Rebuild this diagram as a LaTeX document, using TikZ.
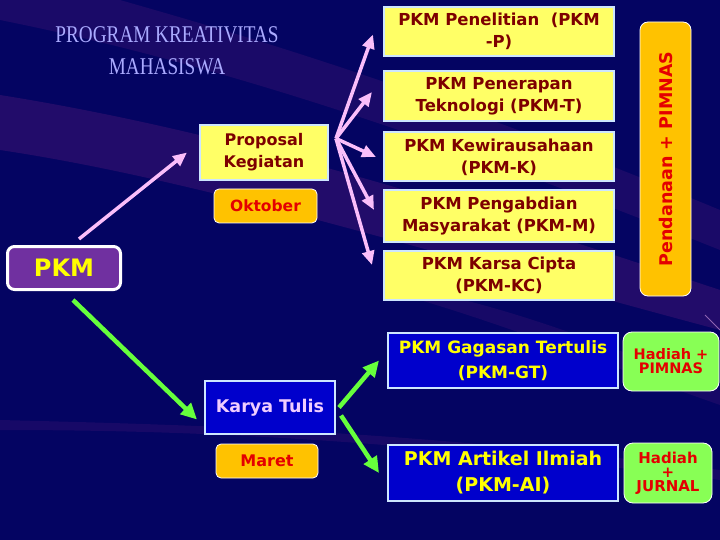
\documentclass[tikz,border=0pt]{standalone}
\usepackage{fontspec}
\usepackage{graphicx}
\setmainfont{DejaVu Sans}
\newfontfamily\titlefont{Liberation Serif}
\usetikzlibrary{arrows.meta,calc}
\definecolor{bgnavy}{RGB}{4,4,98}
\definecolor{streak}{RGB}{42,14,108}
\definecolor{ybox}{RGB}{255,255,102}
\definecolor{lborder}{RGB}{205,230,255}
\definecolor{dred}{RGB}{125,0,0}
\definecolor{gold}{RGB}{255,194,0}
\definecolor{rtext}{RGB}{228,0,0}
\definecolor{pkmpurple}{RGB}{112,48,160}
\definecolor{pkmyellow}{RGB}{255,255,0}
\definecolor{bbox}{RGB}{0,0,204}
\definecolor{kttext}{RGB}{240,205,255}
\definecolor{lgreen}{RGB}{136,255,85}
\definecolor{agreen}{RGB}{102,255,60}
\definecolor{apink}{RGB}{250,190,250}
\definecolor{ttext}{RGB}{170,170,255}
\tikzset{
  ybx/.style={draw=lborder,line width=2pt,fill=ybox,text=dred,minimum width=230pt,align=center,inner sep=1pt,font=\bfseries\fontsize{16.5}{22}\selectfont},
  goldbx/.style={draw=white,line width=0.8pt,fill=gold,rounded corners=5pt,text=rtext,align=center,font=\bfseries\fontsize{15.5}{17}\selectfont},
  bbx/.style={draw=lborder,line width=2pt,fill=bbox,text=pkmyellow,minimum width=230pt,align=center,inner sep=1pt},
  gbx/.style={draw=white,line width=0.8pt,fill=lgreen,rounded corners=9pt,text=rtext,align=center,inner sep=1pt},
  parr/.style={draw=apink,line width=3.5pt,-{Triangle[length=14pt,width=12pt]}},
  garr/.style={draw=agreen,line width=4.5pt,-{Triangle[length=16pt,width=15pt]}},
}
\begin{document}
\begin{tikzpicture}[x=1pt,y=-1pt]
\useasboundingbox (0,0) rectangle (720,540);
\fill[bgnavy] (0,0) rectangle (720,540);
% background streaks
\fill[streak,opacity=0.8] (0,95) -- (0,150) .. controls (200,180) and (420,250) .. (720,330) -- (720,290) .. controls (450,200) and (220,130) .. (0,95) -- cycle;
\fill[streak,opacity=0.6] (0,0) -- (120,0) .. controls (260,40) and (430,90) .. (720,210) -- (720,250) .. controls (420,130) and (200,60) .. (0,20) -- cycle;
\fill[streak,opacity=0.5] (0,430) .. controls (200,430) and (400,440) .. (720,480) -- (720,470) .. controls (400,430) and (200,425) .. (0,420) -- cycle;
\fill[streak,opacity=0.5] (420,290) .. controls (520,310) and (620,350) .. (720,390) -- (720,405) .. controls (620,370) and (520,330) .. (420,300) -- cycle;
\draw[apink,opacity=0.5,line width=0.8pt] (705,315) -- (720,330);

% title
\node[text=ttext,align=center,font=\titlefont\fontsize{24}{32}\selectfont] (title) at (167,51)
  {\scalebox{0.8}[1]{PROGRAM KREATIVITAS}\\\scalebox{0.8}[1]{MAHASISWA}};

% left nodes
\node[draw=white,line width=3pt,fill=pkmpurple,rounded corners=7pt,minimum width=113pt,minimum height=43pt,text=pkmyellow,font=\bfseries\fontsize{24}{26}\selectfont] (pkm) at (64,268) {PKM};
\node[draw=lborder,line width=2pt,fill=ybox,text=dred,minimum width=128pt,minimum height=55pt,align=center,inner sep=1pt,font=\bfseries\fontsize{16}{22}\selectfont] (prop) at (264,152.5) {Proposal\\Kegiatan};
\node[goldbx,minimum width=103pt,minimum height=34pt] (okt) at (265.5,206) {Oktober};

% right yellow column
\node[ybx,minimum height=49pt] (p) at (499,31.5) {PKM Penelitian~~(PKM\\-P)};
\node[ybx,minimum height=50pt] (t) at (499,96) {PKM Penerapan\\Teknologi (PKM-T)};
\node[ybx,minimum height=49pt] (k) at (499,157) {PKM Kewirausahaan\\(PKM-K)};
\node[ybx,minimum height=51pt] (m) at (499,216) {PKM Pengabdian\\Masyarakat (PKM-M)};
\node[ybx,minimum height=49pt] (kc) at (499,275) {PKM Karsa Cipta\\(PKM-KC)};
\node[draw=white,line width=0.8pt,fill=gold,rounded corners=8pt,minimum width=51pt,minimum height=274pt] (dana) at (665.5,159) {};
\node[rotate=90,text=rtext,font=\bfseries\fontsize{17.5}{19}\selectfont] (danatxt) at (dana.center) {Pendanaan + PIMNAS};

% lower part
\node[draw=lborder,line width=2pt,fill=bbox,text=kttext,minimum width=130pt,minimum height=53pt,font=\bfseries\fontsize{17.5}{19}\selectfont] (kt) at (270,407.5) {Karya Tulis};
\node[goldbx,minimum width=102pt,minimum height=34pt,font=\bfseries\fontsize{16}{18}\selectfont] (maret) at (267,461) {Maret};
\node[bbx,minimum height=55pt,font=\bfseries\fontsize{17}{25}\selectfont] (gt) at (503,360.5) {PKM Gagasan Tertulis\\(PKM-GT)};
\node[bbx,minimum height=56pt,font=\bfseries\fontsize{19}{26}\selectfont] (ai) at (503,473) {PKM Artikel Ilmiah\\(PKM-AI)};
\node[gbx,minimum width=96pt,minimum height=59pt,font=\bfseries\fontsize{14.5}{14}\selectfont] (h1) at (671,361.5) {Hadiah +\\PIMNAS};
\node[gbx,minimum width=88pt,minimum height=60pt,font=\bfseries\fontsize{15}{14}\selectfont] (h2) at (668,473) {Hadiah\\+\\JURNAL};

% arrows
\draw[parr] ([xshift=15pt,yshift=6pt]pkm.north) -- ([xshift=-12pt]prop.west);
\coordinate (fan) at ([xshift=7pt,yshift=14pt]prop.east);
\draw[parr] (fan) -- ([xshift=-10pt,yshift=-3pt]p.west);
\draw[parr] (fan) -- ([xshift=-11pt,yshift=4pt]t.west);
\draw[parr] (fan) -- ([xshift=-7pt]k.west);
\draw[parr] (fan) -- ([xshift=-9pt,yshift=6pt]m.west);
\draw[parr] (fan) -- ([xshift=-11pt,yshift=10pt]kc.west);

\draw[garr] ([xshift=9pt,yshift=-9pt]pkm.south) -- ([xshift=-7pt,yshift=-12pt]kt.west);
\draw[garr] ([xshift=3pt]kt.east) -- ([xshift=-8pt]gt.west);
\draw[garr] ([xshift=5pt,yshift=-8pt]kt.east) -- ([xshift=-8pt]ai.west);
\end{tikzpicture}
\end{document}
